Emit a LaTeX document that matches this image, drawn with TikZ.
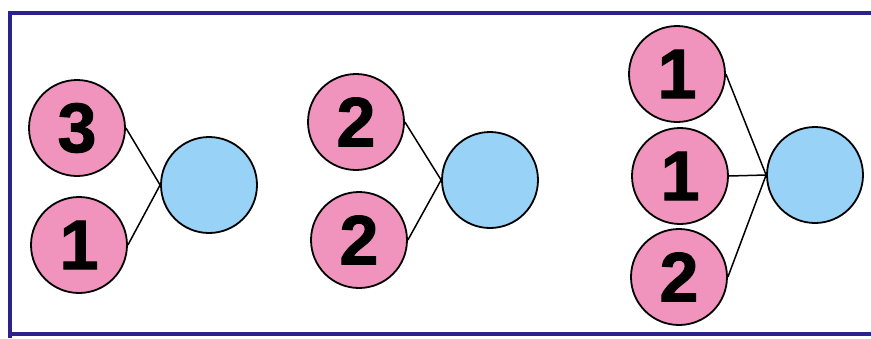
\documentclass[tikz,border=0pt]{standalone}
\usepackage{fontspec}
\setmainfont{Liberation Sans}[BoldFeatures={FakeBold=1.5}]
\usepackage{tikz}
\usetikzlibrary{positioning}
\definecolor{ballpink}{RGB}{240,148,190}
\definecolor{ballblue}{RGB}{152,210,246}
\definecolor{framecol}{RGB}{44,34,140}

\begin{document}
\begin{tikzpicture}[x=1pt, y=-1pt,
    pinkball/.style={circle, draw=black, line width=1.8pt, fill=ballpink,
      minimum size=96pt, inner sep=0pt,
      font=\fontsize{70}{70}\selectfont\bfseries},
    blueball/.style={circle, draw=black, line width=1.8pt, fill=ballblue,
      minimum size=96pt, inner sep=0pt},
    link/.style={line width=1.5pt}]
      \useasboundingbox (0,0) rectangle (871,338);

      % Frame
      \draw[framecol, line width=4pt] (871,13) -- (10,13) -- (10,338);
      \draw[framecol, line width=4pt] (10,334) -- (871,334);

      % First group: 3 and 1
      \node[pinkball] (a3) at (77,128) {3};
      \node[pinkball] (a1) at (79,245) {1};
      \node[blueball] (asum) at (209,185) {};
      \draw[link] (a3.east) -- (asum.west);
      \draw[link] (a1.east) -- (asum.west);

      % Second group: 2 and 2
      \node[pinkball] (b2) at (356,122) {2};
      \node[pinkball] (b2b) at (359,240) {2};
      \node[blueball] (bsum) at (490,180) {};
      \draw[link] (b2.east) -- (bsum.west);
      \draw[link] (b2b.east) -- (bsum.west);

      % Third group: 1, 1 and 2
      \node[pinkball] (c1) at (677,74) {1};
      \node[pinkball] (c1b) at (680,176) {1};
      \node[pinkball] (c2) at (679,277) {2};
      \node[blueball] (csum) at (815,175) {};
      \draw[link] (c1.east) -- (csum.west);
      \draw[link] (c1b.east) -- (csum.west);
      \draw[link] (c2.east) -- (csum.west);
    \end{tikzpicture}
\end{document}
